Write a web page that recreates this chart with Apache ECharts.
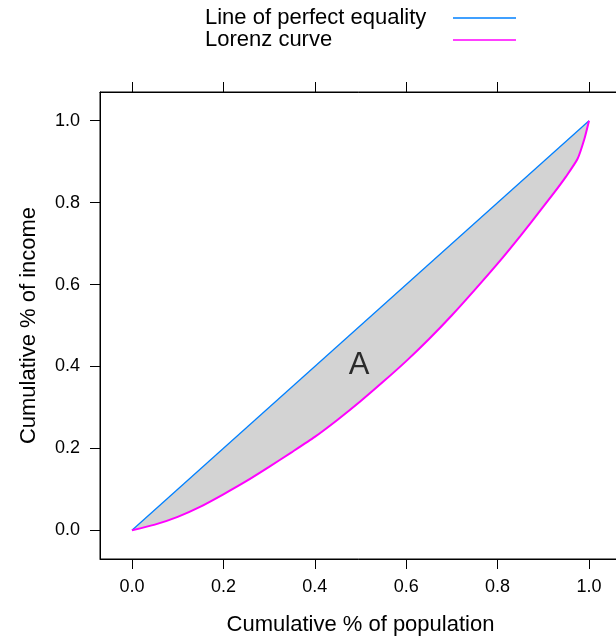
<!DOCTYPE html>
<html>
<head>
<meta charset="utf-8">
<script src="https://cdn.jsdelivr.net/npm/echarts@6/dist/echarts.min.js"></script>
<style>
  html, body { margin: 0; padding: 0; background: #fff; }
  #chart { width: 616px; height: 637px; }
</style>
</head>
<body>
<div id="chart"></div>
<script>
// Cumulative share of population (x) and of income (y) along the Lorenz curve
const popShare = [0, 0.05, 0.10, 0.15, 0.20, 0.25, 0.30, 0.35, 0.40, 0.45, 0.50, 0.55,
                  0.60, 0.65, 0.70, 0.75, 0.80, 0.85, 0.90, 0.925, 0.95, 0.975, 0.99, 1.0];
const incomeShare = [0, 0.014, 0.033, 0.058, 0.088, 0.120, 0.155, 0.191, 0.228, 0.270, 0.315, 0.363,
                     0.413, 0.467, 0.525, 0.587, 0.651, 0.719, 0.790, 0.826, 0.864, 0.907, 0.956, 1.0];
// End points of the line of perfect equality
const equalityX = [0, 1];
const equalityY = [0, 1];
// Tick positions shared by both axes
const tickValues = [0, 0.2, 0.4, 0.6, 0.8, 1.0];
// Position of the "A" annotation
const areaLabel = { x: 0.497, y: 0.402, text: 'A' };

const FONT = '"Liberation Sans", Arial, Helvetica, sans-serif';

const lorenzPts = popShare.map((p, i) => [p, incomeShare[i]]);
const equalityPts = equalityX.map((x, i) => [x, equalityY[i]]);

const axisCommon = {
  type: 'value',
  min: -0.07,
  max: 1.07,
  splitLine: { show: false },
  axisLine: { show: true, onZero: false, lineStyle: { color: '#000', width: 1 } },
  axisTick: { show: true, inside: false, length: 10, customValues: tickValues,
              lineStyle: { color: '#000', width: 1 } },
  axisLabel: { show: true, customValues: tickValues, color: '#000', fontSize: 18,
               fontFamily: FONT, formatter: v => v.toFixed(1) }
};

// Shaded region between the equality line (upper edge) and the Lorenz curve (lower edge)
function renderGap(params, api) {
  const upper = popShare.map(p => api.coord([p, p]));
  const lower = lorenzPts.slice().reverse().map(pt => api.coord(pt));
  return {
    type: 'polygon',
    shape: { points: upper.concat(lower) },
    style: { fill: '#d3d3d3', stroke: null }
  };
}

const chart = echarts.init(document.getElementById('chart'), null, { renderer: 'canvas' });
chart.setOption({
  animation: false,
  backgroundColor: '#fff',
  textStyle: { fontFamily: FONT },
  legend: {
    orient: 'vertical',
    left: 205,
    top: 7,
    padding: 0,
    align: 'right',
    itemGap: 0,
    itemWidth: 63,
    itemHeight: 1.5,
    icon: 'rect',
    selectedMode: false,
    data: [
      { name: 'Line of perfect equality', itemStyle: { color: '#0080ff' } },
      { name: 'Lorenz curve', itemStyle: { color: '#ff00ff' } }
    ],
    formatter: name => '{t|' + name + '}',
    textStyle: {
      color: '#000', fontSize: 22, fontFamily: FONT,
      rich: { t: { width: 243, height: 22, lineHeight: 22, fontSize: 22, fontFamily: FONT, color: '#000', align: 'left' } }
    }
  },
  grid: { left: 100, top: 92, width: 521, height: 467, show: true,
          outerBoundsMode: 'none', containLabel: false,
          borderColor: '#000', borderWidth: 1, backgroundColor: 'transparent' },
  xAxis: [
    Object.assign({}, axisCommon, {
      position: 'bottom',
      name: 'Cumulative % of population',
      nameLocation: 'middle',
      nameGap: 55,
      nameTextStyle: { color: '#000', fontSize: 22, fontFamily: FONT },
      axisLabel: Object.assign({}, axisCommon.axisLabel, { margin: 19 })
    }),
    Object.assign({}, axisCommon, {
      position: 'top',
      axisLabel: { show: false }
    })
  ],
  yAxis: [
    Object.assign({}, axisCommon, {
      position: 'left',
      name: 'Cumulative % of income',
      nameLocation: 'middle',
      nameGap: 60,
      nameTextStyle: { color: '#000', fontSize: 22, fontFamily: FONT },
      axisLabel: Object.assign({}, axisCommon.axisLabel, { margin: 20 })
    })
  ],
  series: [
    {
      name: 'gap', type: 'custom', renderItem: renderGap, data: [0],
      silent: true, z: 1, clip: true
    },
    {
      name: 'Line of perfect equality', type: 'line', data: equalityPts,
      symbol: 'none', lineStyle: { color: '#0080ff', width: 1.3 }, z: 3
    },
    {
      name: 'Lorenz curve', type: 'line', data: lorenzPts, smooth: 0.2,
      symbol: 'none', lineStyle: { color: '#ff00ff', width: 2 }, z: 4
    },
    {
      name: 'label', type: 'scatter', data: [[areaLabel.x, areaLabel.y]],
      symbolSize: 0, silent: true, z: 5,
      label: { show: true, position: 'inside', formatter: areaLabel.text,
               color: '#000', fontSize: 31, fontFamily: FONT }
    }
  ]
});
</script>
</body>
</html>
